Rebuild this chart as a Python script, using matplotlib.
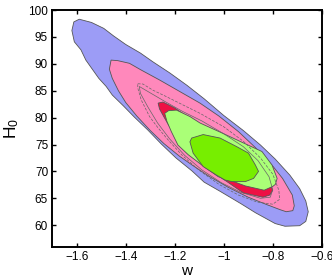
import matplotlib

matplotlib.use("Agg")
import matplotlib.pyplot as plt
from matplotlib.ticker import FuncFormatter

plt.rcParams["font.family"] = ["Liberation Sans", "DejaVu Sans"]
plt.rcParams["mathtext.default"] = "regular"

# Contour outlines, (w, H0) pairs.
blue_w = [-1.62, -1.612, -1.59, -1.54, -1.49, -1.45, -1.40, -1.34, -1.29, -1.22,
          -1.15, -1.08, -1.0, -0.92, -0.85, -0.79, -0.73, -0.69, -0.665, -0.655,
          -0.665, -0.69, -0.75, -0.79, -0.87, -0.93, -1.015, -1.08, -1.13, -1.195,
          -1.255, -1.31, -1.365, -1.41, -1.455, -1.48, -1.51, -1.535, -1.563,
          -1.583, -1.61]
blue_h = [96.2, 97.8, 98.3, 97.7, 96.6, 95.2, 93.6, 92.0, 90.4, 88.3,
          86.0, 83.5, 80.4, 77.6, 74.9, 72.3, 69.3, 66.8, 64.5, 62.5,
          60.7, 59.9, 59.8, 60.3, 62.3, 64.0, 66.3, 68.0, 70.1, 72.5,
          75.1, 77.7, 80.1, 82.2, 84.2, 85.8, 87.3, 88.9, 90.7,
          92.6, 94.1]

pink_w = [-1.467, -1.46, -1.433, -1.385, -1.337, -1.262, -1.166, -1.097, -1.02,
          -0.94, -0.87, -0.80, -0.76, -0.72, -0.712, -0.718, -0.745, -0.768,
          -0.823, -0.9, -0.98, -1.06, -1.12, -1.18, -1.245, -1.30, -1.355, -1.40,
          -1.43, -1.455]
pink_h = [89.0, 90.7, 90.6, 90.1, 88.85, 87.0, 84.5, 82.7, 80.3,
          77.4, 74.4, 71.0, 68.7, 65.6, 63.6, 62.7, 62.5, 62.85,
          63.8, 65.2, 67.0, 69.1, 70.9, 72.8, 75.2, 77.6, 80.3, 82.8,
          85.0, 87.3]

red_w = [-1.268, -1.248, -1.2, -1.15, -1.08, -1.0, -0.92, -0.86, -0.82, -0.80,
         -0.812, -0.84, -0.92, -0.99, -1.017, -1.085, -1.14, -1.182, -1.207,
         -1.225, -1.245, -1.262]
red_h = [82.7, 82.9, 81.8, 80.2, 78.2, 75.8, 73.2, 70.8, 68.5, 66.5,
         65.6, 65.2, 66.0, 68.2, 69.0, 71.2, 73.1, 74.9, 77.4,
         78.6, 80.2, 81.6]

lgreen_w = [-1.241, -1.225, -1.193, -1.138, -1.097, -1.0, -0.92, -0.844, -0.803,
            -0.782, -0.789, -0.80, -0.835, -0.912, -0.995, -1.022, -1.09, -1.145,
            -1.187, -1.214, -1.232]
lgreen_h = [80.8, 81.3, 81.4, 80.2, 79.0, 77.0, 75.3, 73.7, 71.2,
            68.7, 67.6, 67.2, 66.5, 67.3, 68.7, 69.0, 71.2, 73.1,
            74.9, 77.4, 79.3]

dgreen_w = [-1.138, -1.131, -1.084, -1.015, -0.947, -0.899, -0.871, -0.858, -0.878,
            -0.912, -0.967, -0.995, -1.029, -1.084, -1.125]
dgreen_h = [75.5, 76.2, 76.85, 76.2, 74.6, 73.4, 71.2, 70.0, 68.7,
            68.1, 68.1, 68.4, 69.3, 70.9, 73.4]

dash_w = [-1.351, -1.33, -1.289, -1.234, -1.166, -1.097, -1.0, -0.92, -0.85,
          -0.80, -0.775, -0.772, -0.80, -0.864, -0.94, -1.02, -1.10, -1.17,
          -1.23, -1.27, -1.303, -1.337, -1.351]
dash_h = [86.3, 86.25, 85.1, 83.9, 82.35, 80.8, 78.3, 75.6, 72.5,
          69.5, 66.5, 64.8, 63.9, 64.3, 65.6, 67.6, 70.2, 73.0,
          76.0, 78.2, 80.2, 83.3, 85.5]

line_w = [-1.345, -1.30, -1.24, -1.17, -1.09, -1.0, -0.92, -0.86, -0.815, -0.80,
          -0.81, -0.85, -0.93, -1.01, -1.09, -1.16, -1.22, -1.27, -1.31, -1.34]
line_h = [85.8, 84.6, 83.0, 81.2, 79.4, 77.0, 74.6, 72.0, 69.0, 66.6,
          65.2, 65.0, 66.1, 67.9, 70.3, 73.0, 76.0, 79.0, 82.0, 84.5]

x_ticks = [-1.6, -1.4, -1.2, -1.0, -0.8, -0.6]
y_ticks = [60, 65, 70, 75, 80, 85, 90, 95, 100]

fig = plt.figure(figsize=(3.32, 2.80), dpi=100)
ax = fig.add_axes([0.1575, 0.119, 0.8115, 0.845])

edge = dict(edgecolor="#555555", linewidth=0.6)
ax.fill(blue_w, blue_h, facecolor="#9c9cf6", **edge)
ax.fill(pink_w, pink_h, facecolor="#ff88bb", **edge)
ax.fill(red_w, red_h, facecolor="#ee1144", **edge)
ax.fill(lgreen_w, lgreen_h, facecolor="#aaff77", **edge)
ax.fill(dgreen_w, dgreen_h, facecolor="#77ee00", **edge)
ax.fill(dash_w, dash_h, fill=False, edgecolor="#666666", linewidth=0.5,
        linestyle=(0, (4, 2)))
ax.fill(line_w, line_h, fill=False, edgecolor="#666666", linewidth=0.5)

ax.set_xlim(-1.7, -0.6)
ax.set_ylim(56, 100)
ax.set_xticks(x_ticks)
ax.set_yticks(y_ticks)
fmt = FuncFormatter(lambda v, _: f"{v:g}".replace("-", "\u2212"))
ax.xaxis.set_major_formatter(fmt)
ax.yaxis.set_major_formatter(fmt)
ax.tick_params(direction="in", top=True, right=True, length=3, width=1,
               labelsize=8.5, pad=3)
for s in ax.spines.values():
    s.set_linewidth(1.4)

ax.set_xlabel("w", fontsize=11, labelpad=1)
ax.set_ylabel("H$_0$", fontsize=12.5, labelpad=5)

fig.savefig("out.png", dpi=100)
